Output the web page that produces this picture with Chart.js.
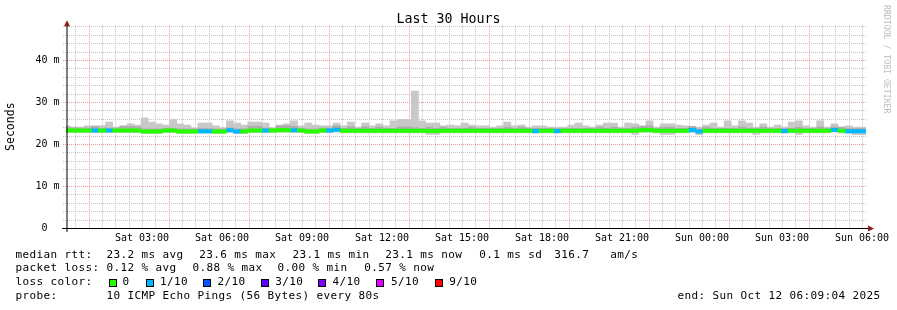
<!DOCTYPE html>
<html>
<head>
<meta charset="utf-8">
<script src="https://cdn.jsdelivr.net/npm/chart.js@4.4.1/dist/chart.umd.min.js"></script>
<style>
html,body{margin:0;padding:0;background:#fff;}
#wrap{position:relative;width:897px;height:310px;overflow:hidden;font-family:'DejaVu Sans Mono',monospace;color:#000;}
#c{position:absolute;left:0;top:0;}
#title{position:absolute;left:0;top:11px;width:897px;text-align:center;font-size:13.3px;line-height:16px;white-space:pre;}
.t{position:absolute;white-space:pre;font-size:11px;letter-spacing:0.38px;line-height:14px;}
.sw{position:absolute;width:6px;height:6px;border:1px solid #000;}
#wm{position:absolute;left:881.5px;top:5px;writing-mode:vertical-rl;font-size:8.2px;line-height:9px;color:#bdbdbd;white-space:pre;}
</style>
</head>
<body>
<div id="wrap">
<canvas id="c" width="897" height="310"></canvas>
<div id="title">Last 30 Hours</div>
<div id="wm">RRDTOOL / TOBI OETIKER</div>
<div id="legend"></div>
</div>
<script>
// ---------------- data ----------------
const graphStartHour = 9/60 + 4/3600;      // Sat 00:09:04
const graphSpanHours = 30;                  // Last 30 Hours
const binStartMinute = 2;                   // first 16-minute bin starts Sat 00:02
const binMinutes = 16;

const smokeMax = [
 24.3,24.0,24.0,24.3,24.3,24.4,25.2,24.0,24.4,24.8,
 24.5,26.2,25.2,24.8,24.5,25.8,24.8,24.5,23.8,25.0,
 25.0,24.3,23.8,25.5,25.0,24.5,25.2,25.2,25.0,23.8,
 24.5,24.8,25.5,24.3,25.0,24.5,24.3,24.3,25.0,24.3,
 25.2,24.0,25.0,24.3,24.8,24.3,25.5,25.8,25.8,32.6,
 25.5,25.0,25.0,24.3,24.5,24.3,25.0,24.5,24.3,24.3,
 24.0,24.3,25.2,24.3,24.5,24.0,24.3,24.3,24.0,24.0,
 24.0,24.5,25.0,24.3,24.0,24.5,25.0,25.0,24.0,25.0,
 24.8,24.3,25.5,24.0,24.8,24.8,24.5,24.3,24.0,24.0,
 24.5,25.0,24.0,25.5,24.3,25.5,25.0,24.0,24.8,24.0,
 24.5,24.0,25.2,25.5,24.3,24.0,25.5,24.0,24.8,24.0,
 24.3,24.0,24.0];

const smokeInner = [
 23.9,23.9,23.8,23.8,24.2,23.8,23.8,23.8,24.2,24.2,
 24.1,23.6,23.6,23.6,23.8,23.8,23.6,23.6,23.6,23.65,
 23.65,23.6,23.6,23.85,23.6,23.6,24.2,24.2,23.8,23.8,
 24.3,24.3,24.2,23.8,23.6,23.6,23.8,23.8,24.3,23.75,
 24.1,23.75,24.1,23.75,24.1,23.75,23.75,24.1,24.1,23.9,
 23.75,24.0,23.7,24.0,23.75,23.75,23.75,24.0,23.75,23.75,
 23.75,23.75,24.0,23.75,24.0,23.75,23.7,23.75,23.75,23.7,
 23.75,23.75,23.75,23.75,23.75,24.0,23.75,24.0,23.75,23.75,
 24.0,24.2,24.3,23.75,24.0,24.0,23.75,23.75,24.2,23.6,
 24.0,23.75,23.75,23.75,23.75,24.0,23.75,23.75,24.0,23.75,
 23.75,23.7,23.75,24.0,23.75,23.75,24.0,23.75,24.1,24.0,
 23.65,23.65,23.65];

const smokeMin = [
 22.7,22.7,22.7,22.7,22.7,22.7,22.7,22.7,22.7,22.7,
 22.7,22.5,22.5,22.5,22.7,22.7,22.5,22.5,22.5,22.55,
 22.55,22.5,22.5,22.75,22.5,22.5,22.7,22.7,22.7,22.7,
 22.8,22.8,22.75,22.7,22.5,22.5,22.7,22.7,22.9,22.65,
 22.65,22.65,22.65,22.65,22.65,22.65,22.65,22.65,22.65,22.65,
 22.65,22.3,22.3,22.65,22.65,22.65,22.65,22.65,22.65,22.65,
 22.65,22.65,22.65,22.65,22.65,22.65,22.6,22.65,22.65,22.6,
 22.65,22.65,22.65,22.65,22.65,22.65,22.65,22.65,22.65,22.65,
 22.3,22.8,22.8,22.65,22.3,22.3,22.65,22.65,22.8,22.2,
 22.65,22.65,22.65,22.65,22.65,22.65,22.65,22.3,22.65,22.65,
 22.65,22.6,22.65,22.3,22.65,22.65,22.65,22.65,22.85,22.65,
 22.55,22.2,22.2];

const medianRtt = [
 23.2,23.2,23.2,23.2,23.2,23.2,23.2,23.2,23.2,23.2,
 23.2,23.0,23.0,23.0,23.2,23.2,23.0,23.0,23.0,23.05,
 23.05,23.0,23.0,23.25,23.0,23.0,23.2,23.2,23.2,23.2,
 23.3,23.3,23.25,23.2,23.0,23.0,23.2,23.2,23.4,23.15,
 23.15,23.15,23.15,23.15,23.15,23.15,23.15,23.15,23.15,23.15,
 23.15,23.1,23.1,23.15,23.15,23.15,23.15,23.15,23.15,23.15,
 23.15,23.15,23.15,23.15,23.15,23.15,23.1,23.15,23.15,23.1,
 23.15,23.15,23.15,23.15,23.15,23.15,23.15,23.15,23.15,23.15,
 23.15,23.3,23.3,23.15,23.15,23.15,23.15,23.15,23.3,23.0,
 23.15,23.15,23.15,23.15,23.15,23.15,23.15,23.15,23.15,23.15,
 23.15,23.1,23.15,23.15,23.15,23.15,23.15,23.15,23.35,23.15,
 23.05,23.05,23.05];

// lost pings out of 10 per bin
const lossCount = [
 0,0,0,0,1,0,1,0,0,0,
 0,0,0,0,0,0,0,0,0,1,
 1,0,0,1,1,0,0,0,1,0,
 0,0,1,0,0,0,0,1,1,0,
 0,0,0,0,0,0,0,0,0,0,
 0,0,0,0,0,0,0,0,0,0,
 0,0,0,0,0,0,1,0,0,1,
 0,0,0,0,0,0,0,0,0,0,
 0,0,0,0,0,0,0,0,1,1,
 0,0,0,0,0,0,0,0,0,0,
 0,1,0,0,0,0,0,0,1,0,
 1,1,1];

const lossLevels = [0, 1, 2, 3, 4, 5, 9];
const lossLabels = ['0', '1/10', '2/10', '3/10', '4/10', '5/10', '9/10'];
const lossColors = ['#26ff00', '#00b8ff', '#0059ff', '#5e00ff', '#7e00ff', '#dd00ff', '#ff0000'];

const xLabelHours = [3, 6, 9, 12, 15, 18, 21, 24, 27, 30];
const xLabelTexts = ['Sat 03:00','Sat 06:00','Sat 09:00','Sat 12:00','Sat 15:00','Sat 18:00','Sat 21:00','Sun 00:00','Sun 03:00','Sun 06:00'];
const xMajorGridHours = [1, 4, 7, 10, 13, 16, 19, 22, 25, 28];
const yLabelValues = [0, 10, 20, 30, 40];
const yLabelTexts = ['0  ', '10 m', '20 m', '30 m', '40 m'];
const yMax = 48.25;

const legendLines = [
  {top: 247.6, items: [['median rtt:',15.5],['23.2 ms avg',106.5],['23.6 ms max',199.3],['23.1 ms min',292.5],['23.1 ms now',385.3],['0.1 ms sd',479.3],['316.7',554.3],['am/s',610.3]]},
  {top: 261.4, items: [['packet loss:',15.5],['0.12 % avg',106.5],['0.88 % max',192.5],['0.00 % min',277.5],['0.57 % now',364.3]]},
  {top: 289,   items: [['probe:',15.5],['10 ICMP Echo Pings (56 Bytes) every 80s',106.5],['end: Sun Oct 12 06:09:04 2025',677.5]]}
];
const lossRowTop = 275.2;
const lossSwatchX = [108.5, 145.5, 202.5, 260.5, 318.3, 376, 435];
const lossTextX = [122.5, 160, 217.5, 275.3, 332.5, 391, 449.3];

// ---------------- legend (HTML text) ----------------
const lg = document.getElementById('legend');
function addText(txt, x, y){ const d=document.createElement('div'); d.className='t'; d.textContent=txt; d.style.left=x+'px'; d.style.top=y+'px'; lg.appendChild(d); }
legendLines.forEach(l => l.items.forEach(([txt,x]) => addText(txt, x, l.top)));
addText('loss color:', 15.5, lossRowTop);
lossLabels.forEach((lab, i) => {
  const s=document.createElement('div'); s.className='sw'; s.style.left=lossSwatchX[i]+'px'; s.style.top=(lossRowTop+4)+'px'; s.style.background=lossColors[i]; lg.appendChild(s);
  addText(lab, lossTextX[i], lossRowTop);
});

// ---------------- chart ----------------
const MONO = "'DejaVu Sans Mono', monospace";
const binCenterHour = k => (binStartMinute + binMinutes * (k + 0.5)) / 60;
const MEDIAN_HALF = 0.4;

const outerData = smokeMax.map((v, k) => ({x: binCenterHour(k), y: [smokeMin[k], v]}));
const innerData = smokeInner.map((v, k) => ({x: binCenterHour(k), y: [medianRtt[k], v]}));
const medianSets = lossLevels.map((lvl, i) => ({
  label: lossLabels[i],
  data: medianRtt.map((m, k) => lossCount[k] === lvl ? {x: binCenterHour(k), y: [m - MEDIAN_HALF, m + MEDIAN_HALF]} : null).filter(Boolean),
  backgroundColor: lossColors[i],
  order: 1
})).filter(ds => ds.data.length > 0);

const gridHalfHours = [];
for (let h = 0.5; h <= graphStartHour + graphSpanHours; h += 0.5) gridHalfHours.push(h);
const yGrid = [];
for (let v = 0; v <= 48; v += 2) yGrid.push(v);

const RED = '#ee9a9a', GRAY = '#c4c4c4';
const isMajorX = h => xMajorGridHours.some(m => Math.abs(m - h) < 1e-6);
const isMajorY = v => v % 10 === 0;

// dotted RRDtool-style grid, positioned through the chart's own scales
const dottedGrid = {
  id: 'dottedGrid',
  beforeDatasetsDraw(chart) {
    const {ctx, chartArea: a, scales: {x, y}} = chart;
    ctx.save();
    ctx.lineWidth = 1;
    ctx.setLineDash([1, 1]);
    const drawV = (h) => {
      const px = Math.round(x.getPixelForValue(h)) + 0.5;
      ctx.strokeStyle = isMajorX(h) ? RED : GRAY;
      ctx.beginPath(); ctx.moveTo(px, a.top); ctx.lineTo(px, a.bottom); ctx.stroke();
    };
    const drawH = (v) => {
      const py = Math.round(y.getPixelForValue(v)) + 0.5;
      ctx.strokeStyle = isMajorY(v) ? RED : GRAY;
      ctx.beginPath(); ctx.moveTo(a.left - 3, py); ctx.lineTo(a.right, py); ctx.stroke();
    };
    gridHalfHours.filter(h => !isMajorX(h)).forEach(drawV);
    yGrid.filter(v => !isMajorY(v)).forEach(drawH);
    gridHalfHours.filter(isMajorX).forEach(drawV);
    yGrid.filter(isMajorY).forEach(drawH);
    ctx.restore();
  }
};

const axisArrows = {
  id: 'axisArrows',
  afterDraw(chart) {
    const {ctx, chartArea: a} = chart;
    ctx.save();
    ctx.strokeStyle = '#000'; ctx.lineWidth = 1;
    ctx.beginPath(); ctx.moveTo(a.left + 1, a.bottom + 4); ctx.lineTo(a.left + 1, a.top - 1); ctx.stroke();
    ctx.beginPath(); ctx.moveTo(a.left - 4, a.bottom + 0.5); ctx.lineTo(a.right + 2, a.bottom + 0.5); ctx.stroke();
    ctx.fillStyle = '#8a1c1c';
    ctx.beginPath(); ctx.moveTo(a.left + 1, a.top - 5); ctx.lineTo(a.left - 2, a.top + 1); ctx.lineTo(a.left + 4, a.top + 1); ctx.closePath(); ctx.fill();
    ctx.beginPath(); ctx.moveTo(a.right + 8, a.bottom + 0.5); ctx.lineTo(a.right + 2, a.bottom - 2.5); ctx.lineTo(a.right + 2, a.bottom + 3.5); ctx.closePath(); ctx.fill();
    ctx.restore();
  }
};

new Chart(document.getElementById('c'), {
  type: 'bar',
  data: {
    datasets: [
      ...medianSets,
      {label: 'smoke inner', data: innerData, backgroundColor: '#adadad', order: 2},
      {label: 'smoke', data: outerData, backgroundColor: '#c8c8c8', order: 3}
    ]
  },
  options: {
    responsive: false, animation: false, devicePixelRatio: 1,
    layout: {padding: {left: 3, right: 31, top: 25.33, bottom: 62}},
    datasets: {bar: {grouped: false, barPercentage: 1, categoryPercentage: 1, borderWidth: 0}},
    plugins: {legend: {display: false}, tooltip: {enabled: false}, title: {display: false}},
    scales: {
      x: {
        type: 'linear', min: graphStartHour, max: graphStartHour + graphSpanHours, offset: false,
        afterBuildTicks: s => { s.ticks = gridHalfHours.map(v => ({value: v})); },
        afterFit: s => { s.height = 20; },
        ticks: {
          autoSkip: false, maxRotation: 0, minRotation: 0, padding: 4, color: '#000',
          font: {family: MONO, size: 10},
          callback: v => { const i = xLabelHours.findIndex(h => Math.abs(h - v) < 1e-6); return i >= 0 ? xLabelTexts[i] : ''; }
        },
        grid: {display: false, drawTicks: false},
        border: {display: false}
      },
      y: {
        type: 'linear', min: 0, max: yMax,
        afterBuildTicks: s => { s.ticks = yGrid.map(v => ({value: v})); },
        afterFit: s => { s.width = 63; },
        ticks: {
          autoSkip: false, padding: 6.5, color: '#000', font: {family: MONO, size: 10},
          callback: v => { const i = yLabelValues.indexOf(v); return i >= 0 ? yLabelTexts[i] : ''; }
        },
        grid: {display: false, drawTicks: false},
        border: {display: false},
        title: {display: true, text: 'Seconds', color: '#000', font: {family: MONO, size: 11.5}, padding: {top: 1, bottom: 0}}
      }
    }
  },
  plugins: [dottedGrid, axisArrows]
});
</script>
</body>
</html>
